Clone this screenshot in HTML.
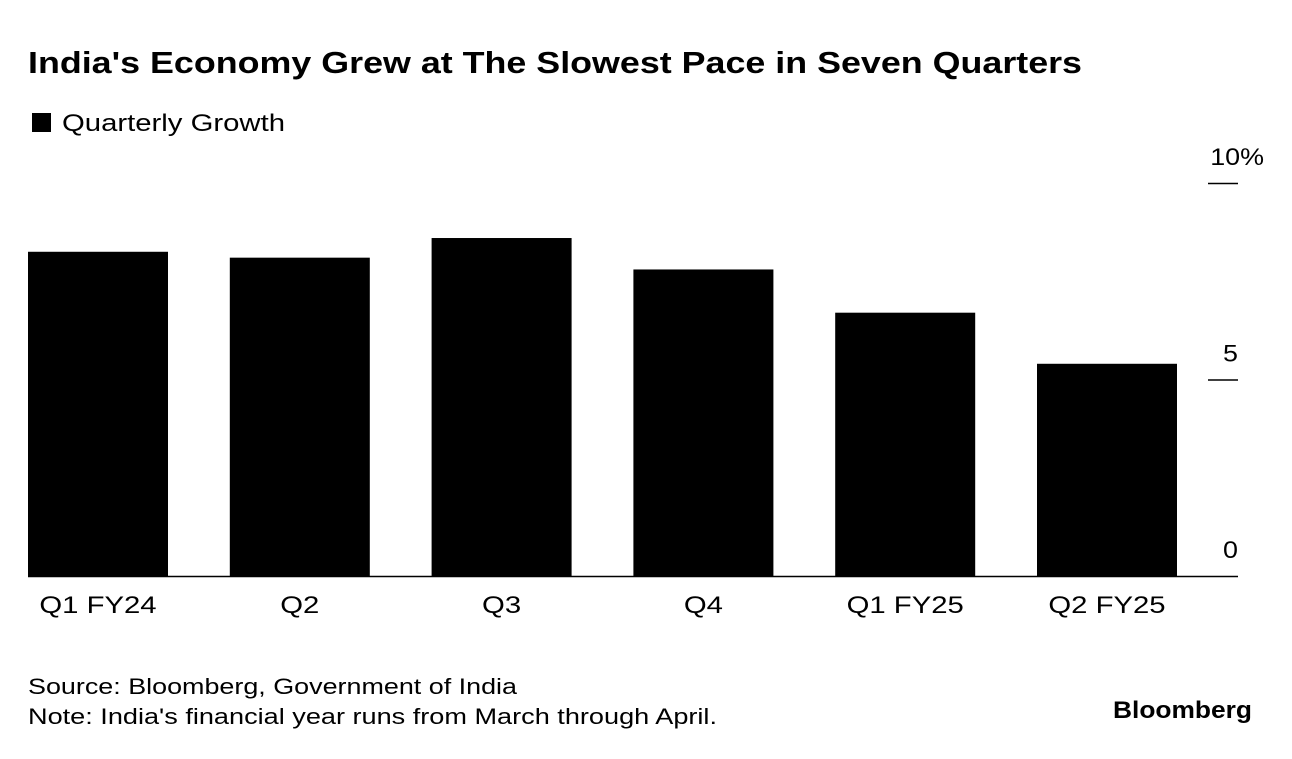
<!DOCTYPE html>
<html><head><meta charset="utf-8"><style>
body{margin:0;background:#fff;width:1292px;height:754px;overflow:hidden;font-family:"Liberation Sans",sans-serif;}
</style></head><body>
<svg width="1292" height="754" font-family="Liberation Sans, sans-serif">
<text x="28" y="73" font-size="31" font-weight="bold" fill="#000" textLength="1054" lengthAdjust="spacingAndGlyphs">India's Economy Grew at The Slowest Pace in Seven Quarters</text>
<rect x="32" y="113" width="19" height="19" fill="#000"/>
<text x="62" y="131" font-size="24" fill="#000" textLength="223" lengthAdjust="spacingAndGlyphs">Quarterly Growth</text>
<g id="ticks"></g>
<g id="bars"></g>
<line x1="28" x2="1238" y1="576.5" y2="576.5" stroke="#000" stroke-width="1.5"/>
<g id="cats"></g>
<text x="28" y="694" font-size="22" fill="#000" textLength="489" lengthAdjust="spacingAndGlyphs">Source: Bloomberg, Government of India</text>
<text x="28" y="724" font-size="22" fill="#000" textLength="689" lengthAdjust="spacingAndGlyphs">Note: India's financial year runs from March through April.</text>
<text x="1113" y="718" font-size="24" font-weight="bold" fill="#000" textLength="139" lengthAdjust="spacingAndGlyphs">Bloomberg</text>
</svg>
<script>
const categories=["Q1 FY24","Q2","Q3","Q4","Q1 FY25","Q2 FY25"];
const growth=[8.25,8.1,8.6,7.8,6.7,5.4];
const tickValues=[0,5,10];
const tickLabels=["0","5","10%"];
const ns="http://www.w3.org/2000/svg";
const y0=576,pxPer=39.3;
function yScale(v){return y0-v*pxPer;}
function xScale(i){return 28+i*201.8;}
const bw=140;
const bars=document.getElementById('bars'),cats=document.getElementById('cats'),ticks=document.getElementById('ticks');
function widen(t,f){const w=t.getComputedTextLength();t.setAttribute('textLength',w*f);t.setAttribute('lengthAdjust','spacingAndGlyphs');}
growth.forEach((v,i)=>{
 const r=document.createElementNS(ns,'rect');
 r.setAttribute('x',xScale(i));r.setAttribute('width',bw);
 r.setAttribute('y',yScale(v));r.setAttribute('height',y0-yScale(v));
 r.setAttribute('fill','#000');
 
 
 bars.appendChild(r);
 const t=document.createElementNS(ns,'text');
 t.setAttribute('x',xScale(i)+bw/2);t.setAttribute('y',613);
 t.setAttribute('text-anchor','middle');t.setAttribute('font-size','24');
 t.textContent=categories[i];
 
 
 cats.appendChild(t);
 widen(t,1.22);
});
tickValues.forEach((v,i)=>{
 const y=yScale(v);
 if(v>0){
 const l=document.createElementNS(ns,'line');
 l.setAttribute('x1',1208);l.setAttribute('x2',1238);l.setAttribute('y1',y+0.5);l.setAttribute('y2',y+0.5);
 l.setAttribute('stroke','#000');l.setAttribute('stroke-width','1.5');
 
 
 ticks.appendChild(l);}
 const t=document.createElementNS(ns,'text');
 t.setAttribute('x',v==10?1264:1238);t.setAttribute('y',y-18);
 t.setAttribute('text-anchor','end');t.setAttribute('font-size','24');
 t.textContent=tickLabels[i];
 
 
 ticks.appendChild(t);
 widen(t,1.12);
});
</script>
</body></html>
